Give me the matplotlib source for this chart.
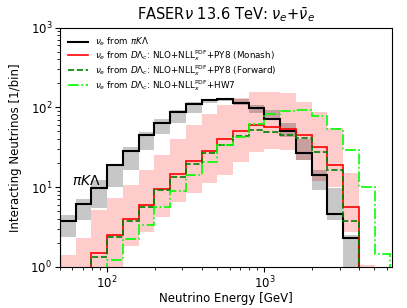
import matplotlib
matplotlib.use('agg')
import matplotlib.pyplot as plt
from matplotlib.lines import Line2D
import numpy as np

# energy bins: 10 per decade from 10^1.7 to 10^3.8 GeV
edges = np.logspace(1.7, 3.8, 22)

# nu_e from pi K Lambda
pik = [3.78, 6.07, 9.8, 18.7, 28.3, 44.9, 63, 86.5, 110, 123, 127, 115,
       97, 71, 51, 27, 14.1, 4.58, 2.27, 0, 0]
pik_up = [4.45, 7.07, 12.3, 18.9, 32, 49, 70.5, 92, 117, 128, 131, 126,
          106, 92, 63, 40, 16.3, 9.6, 2.5, 0, 0]
pik_lo = [2.38, 3.85, 5.4, 9.9, 16.3, 29, 47, 64, 84, 112, 119, 108,
          84, 70, 42.7, 22, 9.2, 3.85, 0, 0, 0]

# nu_e from D Lambda_c, NLO+NLL PY8 Monash (with band)
monash = [0, 0, 1.5, 2.5, 3.97, 5.94, 9.44, 14.6, 21.2, 28.5, 39.8, 50.9,
          60, 57, 53.5, 45, 31.5, 18.9, 5.56, 0, 0]
monash_up = [1.4, 2.27, 5.1, 7.2, 10.6, 16.3, 25, 40, 60, 82, 107, 130,
             157, 157, 150, 117, 88, 54.5, 14.8, 1.05, 0]
monash_lo = [0, 0, 0, 0, 1.8, 2.7, 4.2, 6.5, 8.5, 11.1, 14, 20.8,
             27.7, 30, 29, 21.8, 12, 10.1, 2.75, 0, 0]

# PY8 Forward tune
forward = [0, 0, 1.31, 2.34, 3.74, 5.66, 9.17, 13.5, 19.4, 26.5, 33.6, 44,
           52, 48.6, 44.9, 41.5, 27.3, 16.4, 3.7, 0, 0]

# Herwig 7
hw7 = [0, 0, 0, 1.22, 2.21, 3.34, 5.56, 8.9, 14.1, 20.5, 33.6, 42.7,
       62, 83, 91, 93, 79, 54, 29.1, 9.9, 1.45]


def clip(v):
    v = np.array(v, dtype=float)
    return np.where(v > 0, v, 1e-3)


fig = plt.figure(figsize=(4.07, 3.08), dpi=100)
ax = fig.add_axes([0.147, 0.134, 0.817, 0.776])

ax.stairs(clip(monash_up), edges, baseline=clip(monash_lo), fill=True,
          color='red', alpha=0.2, lw=0)
ax.stairs(clip(pik_up), edges, baseline=clip(pik_lo), fill=True,
          color='black', alpha=0.22, lw=0)

ax.stairs(clip(pik), edges, baseline=1e-3, color='black', lw=1.5)
ax.stairs(clip(monash), edges, baseline=1e-3, color='red', lw=1.2)
ax.stairs(clip(forward), edges, baseline=1e-3, color='green', lw=1.2, ls='--')
ax.stairs(clip(hw7), edges, baseline=1e-3, color='lime', lw=1.2, ls='-.')

ax.set_xscale('log')
ax.set_yscale('log')
ax.set_xlim(50, 6500)
ax.set_ylim(1, 1000)

ax.text(60, 10.5, r'$\pi K\Lambda$', fontsize=10)

ax.set_title(r'FASER$\nu$ 13.6 TeV: $\nu_e$+$\bar{\nu}_e$', fontsize=10.5)
ax.set_xlabel('Neutrino Energy [GeV]', fontsize=8.5, labelpad=1)
ax.set_ylabel('Interacting Neutrinos [1/bin]', fontsize=8.5, labelpad=6)
ax.tick_params(labelsize=8.5, pad=2)

handles = [
    Line2D([], [], color='black', lw=1.5),
    Line2D([], [], color='red', lw=1.2),
    Line2D([], [], color='green', lw=1.2, ls='--'),
    Line2D([], [], color='lime', lw=1.2, ls='-.'),
]
labels = [
    r'$\nu_e$ from $\pi K\Lambda$',
    r'$\nu_e$ from $D\Lambda_c$: NLO+NLL$_x^{\rm PDF}$+PY8 (Monash)',
    r'$\nu_e$ from $D\Lambda_c$: NLO+NLL$_x^{\rm PDF}$+PY8 (Forward)',
    r'$\nu_e$ from $D\Lambda_c$: NLO+NLL$_x^{\rm PDF}$+HW7',
]
ax.legend(handles, labels, loc='upper left', frameon=False, fontsize=6.3,
          handlelength=2.3, labelspacing=0.0, borderaxespad=0.5)

fig.savefig('out.png', dpi=100)
